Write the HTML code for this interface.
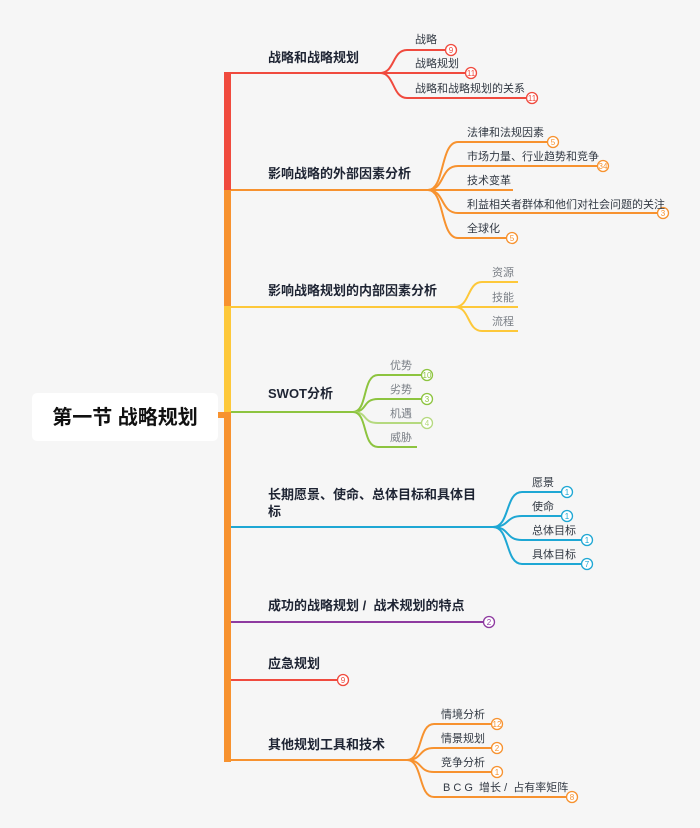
<!DOCTYPE html>
<html><head><meta charset="utf-8"><style>
html,body{margin:0;padding:0;background:#f6f6f6;}
svg{display:block;font-family:"Liberation Sans","Noto Sans CJK SC",sans-serif;}
.l{font-size:13px;font-weight:bold;fill:#1e2433;}
.c{font-size:11px;fill:#333a44;}
.g{font-size:11px;fill:#7a7f86;}
.b{font-size:8px;text-anchor:middle;}
</style></head><body>
<svg width="700" height="828" viewBox="0 0 700 828">
<rect width="700" height="828" fill="#f6f6f6"/>
<rect x="32" y="393" width="186" height="48" rx="5" fill="#fff"/>
<text x="125" y="424" text-anchor="middle" style="font-size:20px;font-weight:bold;fill:#111">第一节 战略规划</text>
<rect x="218" y="412" width="12" height="6" fill="#f7922f"/>
<rect x="224" y="72" width="7" height="118" fill="#f04a3e"/>
<rect x="224" y="190" width="7" height="116" fill="#f7922f"/>
<rect x="224" y="306" width="7" height="106" fill="#fdc83a"/>
<rect x="224" y="412" width="7" height="350" fill="#f7922f"/>

<g fill="none" stroke-width="2">
<g stroke="#f04a3e">
<path d="M231 73 H380 C395 73 392 50 407 50 H445"/>
<path d="M380 73 H465"/>
<path d="M380 73 C395 73 392 98 407 98 H526"/>
</g>
<g stroke="#f7922f">
<path d="M231 190 H428 C445 190 440 142 458 142 H547"/>
<path d="M428 190 C445 190 440 166 458 166 H597"/>
<path d="M428 190 H513"/>
<path d="M428 190 C445 190 440 213 458 213 H657"/>
<path d="M428 190 C445 190 440 238 458 238 H506"/>
</g>
<g stroke="#fdc83a">
<path d="M231 307 H455 C470 307 467 282 482 282 H518"/>
<path d="M455 307 H518"/>
<path d="M455 307 C470 307 467 331 482 331 H518"/>
</g>
<g stroke="#8dc43f">
<path d="M231 412 H353 C368 412 362 375 378 375 H421"/>
<path d="M353 412 C368 412 362 399 378 399 H421"/>
<path d="M353 412 C368 412 362 423 378 423 H421" stroke="#b5d97f"/>
<path d="M353 412 C368 412 362 447 378 447 H417"/>
</g>
<g stroke="#1ea7d4">
<path d="M231 527 H493 C510 527 505 492 522 492 H561"/>
<path d="M493 527 C510 527 505 516 522 516 H561"/>
<path d="M493 527 C510 527 505 540 522 540 H581"/>
<path d="M493 527 C510 527 505 564 522 564 H581"/>
</g>
<path d="M231 622 H483" stroke="#8e3aa0"/>
<path d="M231 680 H337" stroke="#f04a3e"/>
<g stroke="#f7922f">
<path d="M231 760 H407 C423 760 418 724 434 724 H491"/>
<path d="M407 760 C423 760 418 748 434 748 H491"/>
<path d="M407 760 C423 760 418 772 434 772 H491"/>
<path d="M407 760 C423 760 418 797 434 797 H566"/>
</g>
</g>

<g stroke-width="1.3" fill="#fff">
<g stroke="#f04a3e"><circle cx="451" cy="50" r="5.5"/><circle cx="471" cy="73" r="5.5"/><circle cx="532" cy="98" r="5.5"/><circle cx="343" cy="680" r="5.5"/></g>
<g stroke="#f7922f"><circle cx="553" cy="142" r="5.5"/><circle cx="603" cy="166" r="5.5"/><circle cx="663" cy="213" r="5.5"/><circle cx="512" cy="238" r="5.5"/>
<circle cx="497" cy="724" r="5.5"/><circle cx="497" cy="748" r="5.5"/><circle cx="497" cy="772" r="5.5"/><circle cx="572" cy="797" r="5.5"/></g>
<g stroke="#8dc43f"><circle cx="427" cy="375" r="5.5"/><circle cx="427" cy="399" r="5.5"/><circle cx="427" cy="423" r="5.5" stroke="#b5d97f"/></g>
<g stroke="#1ea7d4"><circle cx="567" cy="492" r="5.5"/><circle cx="567" cy="516" r="5.5"/><circle cx="587" cy="540" r="5.5"/><circle cx="587" cy="564" r="5.5"/></g>
<circle cx="489" cy="622" r="5.5" stroke="#8e3aa0"/>
</g>
<g>
<text x="451" y="53" fill="#f04a3e" class="b">9</text><text x="471" y="76" fill="#f04a3e" class="b">11</text><text x="532" y="101" fill="#f04a3e" class="b">11</text><text x="343" y="683" fill="#f04a3e" class="b">9</text>
<text x="553" y="145" fill="#f7922f" class="b">5</text><text x="603" y="169" fill="#f7922f" class="b">34</text><text x="663" y="216" fill="#f7922f" class="b">3</text><text x="512" y="241" fill="#f7922f" class="b">5</text>
<text x="497" y="727" fill="#f7922f" class="b">12</text><text x="497" y="751" fill="#f7922f" class="b">2</text><text x="497" y="775" fill="#f7922f" class="b">1</text><text x="572" y="800" fill="#f7922f" class="b">8</text>
<text x="427" y="378" fill="#8dc43f" class="b">10</text><text x="427" y="402" fill="#8dc43f" class="b">3</text><text x="427" y="426" fill="#b5d97f" class="b">4</text>
<text x="567" y="495" fill="#1ea7d4" class="b">1</text><text x="567" y="519" fill="#1ea7d4" class="b">1</text><text x="587" y="543" fill="#1ea7d4" class="b">1</text><text x="587" y="567" fill="#1ea7d4" class="b">7</text>
<text x="489" y="625" fill="#8e3aa0" class="b">2</text>
</g>

<text class="l" x="268" y="62">战略和战略规划</text>
<text class="l" x="268" y="178">影响战略的外部因素分析</text>
<text class="l" x="268" y="295">影响战略规划的内部因素分析</text>
<text class="l" x="268" y="398">SWOT分析</text>
<text class="l" x="268" y="499">长期愿景、使命、总体目标和具体目</text>
<text class="l" x="268" y="516">标</text>
<text class="l" x="268" y="610">成功的战略规划 /&#160;&#160;战术规划的特点</text>
<text class="l" x="268" y="668">应急规划</text>
<text class="l" x="268" y="749">其他规划工具和技术</text>

<text class="c" x="415" y="43">战略</text>
<text class="c" x="415" y="67">战略规划</text>
<text class="c" x="415" y="92">战略和战略规划的关系</text>
<text class="c" x="467" y="136">法律和法规因素</text>
<text class="c" x="467" y="160">市场力量、行业趋势和竞争</text>
<text class="c" x="467" y="184">技术变革</text>
<text class="c" x="467" y="208">利益相关者群体和他们对社会问题的关注</text>
<text class="c" x="467" y="232">全球化</text>
<text class="g" x="492" y="276">资源</text>
<text class="g" x="492" y="301">技能</text>
<text class="g" x="492" y="325">流程</text>
<text class="g" x="390" y="369">优势</text>
<text class="g" x="390" y="393">劣势</text>
<text class="g" x="390" y="417">机遇</text>
<text class="g" x="390" y="441">威胁</text>
<text class="c" x="532" y="486">愿景</text>
<text class="c" x="532" y="510">使命</text>
<text class="c" x="532" y="534">总体目标</text>
<text class="c" x="532" y="558">具体目标</text>
<text class="c" x="441" y="718">情境分析</text>
<text class="c" x="441" y="742">情景规划</text>
<text class="c" x="441" y="766">竞争分析</text>
<text class="c" x="443" y="791">B&#160;C&#160;G&#160;&#160;增长 /&#160;&#160;占有率矩阵</text>
</svg>
</body></html>
